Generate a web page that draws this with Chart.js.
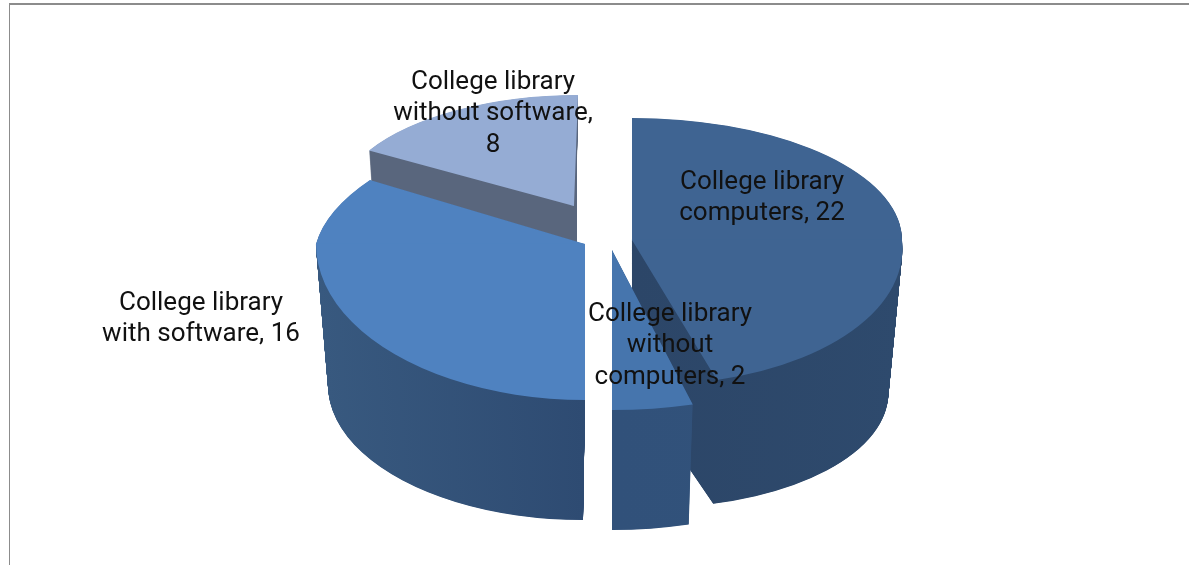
<!DOCTYPE html>
<html>
<head>
<meta charset="utf-8">
<title>College library</title>
<script src="https://cdn.jsdelivr.net/npm/chart.js@4"></script>
<style>
  html, body { margin: 0; padding: 0; background: #fff; overflow: hidden; }
  #frame { position: absolute; left: 9px; top: 3px; right: 0; bottom: 0; border-top: 2px solid #8c8c8c; border-left: 1px solid #8c8c8c; }
  #pie { position: absolute; left: 0; top: 0; }
</style>
</head>
<body>
<div id="frame"></div>
<canvas id="pie" width="1189" height="565"></canvas>
<script>
// Chart values
const categories = ['College library computers', 'College library without computers', 'College library with software', 'College library without software'];
const values = [22, 2, 16, 8];

// Colours per slice
const topColors = ['#3f6492', '#4675ad', '#4f82c0', '#95acd4'];
const sideColors = [
  ['#2d4869', '#2c4668', '#2e4a6d'],
  ['#33547c', '#31517a', '#32537b'],
  ['#38597f', '#2e4b72', '#34557d'],
  ['#59667d', '#59667d', '#59667d']
];

// Label lines and where they sit
const labelLines = [
  ['College library', 'computers, 22'],
  ['College library', 'without', 'computers, 2'],
  ['College library', 'with software, 16'],
  ['College library', 'without software,', '8']
];
const labelCentres = [[762, 182], [670, 314], [201, 303], [493, 82]];

// The library lays out a flat pie, each slice is then tilted by these settings.
// Back half and front half get their own height, this fakes the perspective.
const sliceViews = [
  { top: { x: 632, y: 240, rx: 270, up: 122, down: 145, skewUp: 0, skewDown: 0.107 },
    bottom: { x: 632, y: 385, rx: 256, up: 122, down: 123, skewUp: 0, skewDown: 0.126 } },
  { top: { x: 612, y: 250, rx: 312, up: 160, down: 160, skewUp: 0, skewDown: 0 },
    bottom: { x: 612, y: 370, rx: 297, up: 160, down: 160, skewUp: 0, skewDown: 0 } },
  { top: { x: 585, y: 244, rx: 269, up: 128, down: 156, skewUp: -0.28, skewDown: 0 },
    bottom: { x: 583, y: 385, rx: 255, up: 128, down: 135, skewUp: -0.28, skewDown: 0 } },
  { top: { x: 574, y: 206, rx: 239, up: 111, down: 111, skewUp: -0.036, skewDown: 0 },
    bottom: { x: 577, y: 247, rx: 237, up: 111, down: 111, skewUp: 0, skewDown: 0 } }
];

// Far slices first so the near ones cover them
const drawOrder = [3, 0, 2, 1];

function mixView(a, b, t) {
  const view = {};
  Object.keys(a).forEach(key => {
    view[key] = a[key] + (b[key] - a[key]) * t;
  });
  return view;
}

function paintHalf(ctx, chart, arc, view, isUpper) {
  const radius = arc.outerRadius;
  const height = isUpper ? view.up : view.down;
  const skew = isUpper ? view.skewUp : view.skewDown;

  ctx.save();
  ctx.beginPath();
  if (isUpper) {
    ctx.rect(0, 0, chart.width, view.y + 0.5);
  } else {
    ctx.rect(0, view.y - 0.5, chart.width, chart.height);
  }
  ctx.clip();
  ctx.transform(view.rx / radius, 0, skew * height / radius, height / radius, view.x, view.y);
  ctx.translate(-arc.x, -arc.y);
  arc.draw(ctx);
  ctx.restore();
}

function paintSlice(ctx, chart, arc, view, fill) {
  const savedOptions = arc.options;
  arc.options = Object.assign({}, savedOptions, { backgroundColor: fill, borderWidth: 0, offset: 0 });
  paintHalf(ctx, chart, arc, view, true);
  paintHalf(ctx, chart, arc, view, false);
  arc.options = savedOptions;
}

const tiltedPie = {
  id: 'tiltedPie',
  beforeDatasetsDraw(chart) {
    const ctx = chart.ctx;
    const arcs = chart.getDatasetMeta(0).data;

    drawOrder.forEach(index => {
      const arc = arcs[index];
      const view = sliceViews[index];
      const radius = arc.outerRadius;

      const side = ctx.createLinearGradient(arc.x - radius, 0, arc.x + radius, 0);
      sideColors[index].forEach((color, i) => side.addColorStop(i / 2, color));

      // Side wall: stack of copies, from the bottom face up to the top face
      const steps = Math.round((view.bottom.y - view.top.y) * 2);
      for (let step = steps; step > 0; step--) {
        paintSlice(ctx, chart, arc, mixView(view.top, view.bottom, step / steps), side);
      }
      paintSlice(ctx, chart, arc, view.top, topColors[index]);
    });
    return false;
  },
  afterDraw(chart) {
    const ctx = chart.ctx;
    ctx.save();
    ctx.font = '26px Roboto';
    ctx.fillStyle = '#111';
    ctx.textAlign = 'center';
    ctx.textBaseline = 'middle';
    labelLines.forEach((lines, index) => {
      lines.forEach((line, i) => {
        ctx.fillText(line, labelCentres[index][0], labelCentres[index][1] + i * 31.7);
      });
    });
    ctx.restore();
  }
};

new Chart(document.getElementById('pie'), {
  type: 'pie',
  data: {
    labels: categories,
    datasets: [{
      data: values,
      backgroundColor: topColors,
      borderWidth: 0
    }]
  },
  options: {
    responsive: false,
    animation: false,
    devicePixelRatio: 1,
    rotation: 0,
    plugins: {
      legend: { display: false },
      tooltip: { enabled: false }
    }
  },
  plugins: [tiltedPie]
});
</script>
</body>
</html>
